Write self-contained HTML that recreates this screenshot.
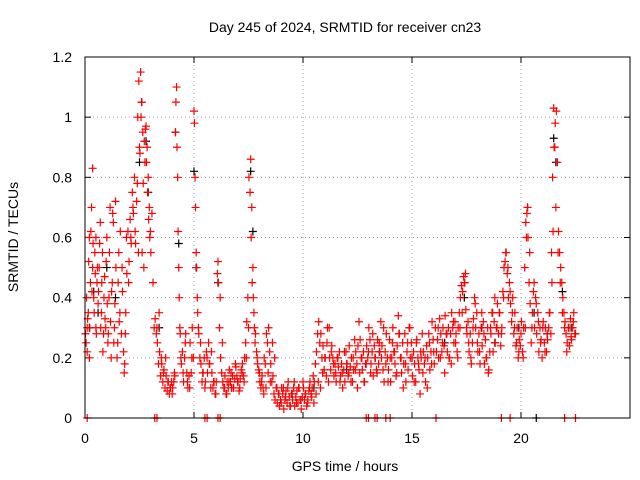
<!DOCTYPE html>
<html><head><meta charset="utf-8"><style>
body{margin:0;background:#fff}
svg{display:block;font-family:"Liberation Sans",sans-serif}
</style></head><body>
<svg id="chart" width="640" height="480" viewBox="0 0 640 480">
<text x="345" y="32" font-size="14" text-anchor="middle">Day 245 of 2024, SRMTID for receiver cn23</text>
<g id="grid"></g>
<g id="axes"></g>
<g id="marks"></g>
<rect x="85" y="57" width="545" height="361" fill="none" stroke="#000"/>
<text x="345" y="471" font-size="14" text-anchor="middle">GPS time / hours</text>
<text x="18" y="237" font-size="14" text-anchor="middle" transform="rotate(-90 18 237)">SRMTID / TECUs</text>
</svg>
<script>
const xTicks=[0,5,10,15,20];
const yTicks=[0,0.2,0.4,0.6,0.8,1,1.2];
const yTickLabels=["0","0.2","0.4","0.6","0.8","1","1.2"];
const redT=[0.05,0.1,0.1,0.15,0.2,0.2,0.25,0.3,0.35,0.35,0.4,0.45,0.5,0.5,0.55,0.6,0.65,0.7,0.75,0.8,0.85,0.9,0.95,1.0,1.05,1.1,1.15,1.2,1.25,1.3,1.35,1.4,1.5,1.55,1.6,1.7,1.8,1.85,1.9,2.0,2.1,2.2,2.3,2.4,2.45,2.5,2.55,2.6,2.65,2.7,2.75,2.8,2.85,2.9,2.95,3.0,3.3,3.4,3.5,3.6,3.7,3.8,3.9,4.0,4.1,4.15,4.2,4.25,4.3,4.35,4.4,4.5,4.6,4.7,4.8,4.9,5.0,5.05,5.1,5.15,5.2,5.3,5.4,5.5,5.6,5.7,5.8,5.9,6.0,6.1,6.2,6.3,6.4,6.5,6.6,6.7,6.8,6.9,7.0,7.1,7.2,7.3,7.4,7.5,7.6,7.65,7.7,7.75,7.8,7.9,8.0,8.1,8.2,8.3,8.4,8.5,8.6,8.7,8.8,8.9,9.0,9.1,9.2,9.3,9.4,9.5,9.6,9.7,9.8,9.9,10.0,10.1,10.2,10.3,10.4,10.5,10.6,10.7,10.8,10.9,11.0,11.1,11.2,11.3,11.4,11.5,11.6,11.7,11.8,11.9,12.0,12.1,12.2,12.3,12.4,12.5,12.6,12.7,12.8,12.9,13.0,13.1,13.2,13.3,13.4,13.5,13.6,13.7,13.8,13.9,14.0,14.1,14.2,14.3,14.4,14.5,14.6,14.7,14.8,14.9,15.0,15.1,15.2,15.3,15.4,15.5,15.6,15.7,15.8,15.9,16.0,16.2,16.3,16.4,16.5,16.6,16.7,16.8,16.9,17.0,17.1,17.2,17.3,17.4,17.45,17.5,17.6,17.7,17.8,17.9,18.0,18.1,18.2,18.3,18.4,18.5,18.6,18.7,18.8,18.9,19.0,19.1,19.2,19.3,19.4,19.5,19.6,19.7,19.8,19.9,20.0,20.1,20.2,20.25,20.3,20.4,20.5,20.6,20.7,20.8,20.9,21.0,21.1,21.2,21.3,21.4,21.45,21.5,21.55,21.6,21.7,21.8,21.9,22.0,22.1,22.2,22.3,22.4,22.5,
0.1,3.2,3.3,5.5,5.6,6.1,6.2,12.9,13.0,13.3,13.4,13.8,14.0,16.1,19.1,19.5,22.0,22.5];
const redV=[0.25,0.3,0.22,0.35,0.6,0.2,0.45,0.7,0.83,0.5,0.4,0.55,0.3,0.6,0.45,0.38,0.5,0.65,0.35,0.55,0.28,0.47,0.3,0.6,0.25,0.4,0.7,0.2,0.45,0.65,0.3,0.72,0.25,0.55,0.35,0.5,0.15,0.28,0.6,0.45,0.6,0.7,0.62,0.78,0.55,0.9,1.15,1.05,0.95,0.5,0.85,0.97,0.9,0.8,0.7,0.62,0.3,0.35,0.2,0.15,0.2,0.12,0.1,0.08,0.15,0.95,1.1,0.8,0.5,0.3,0.2,0.15,0.25,0.12,0.1,0.2,1.02,0.8,0.55,0.4,0.3,0.25,0.15,0.1,0.2,0.18,0.22,0.12,0.08,0.52,0.4,0.25,0.1,0.08,0.12,0.15,0.1,0.18,0.12,0.1,0.15,0.12,0.2,0.3,0.86,0.7,0.5,0.35,0.25,0.2,0.15,0.12,0.08,0.1,0.15,0.12,0.25,0.2,0.1,0.08,0.05,0.1,0.07,0.1,0.04,0.08,0.12,0.05,0.1,0.06,0.12,0.08,0.05,0.1,0.07,0.05,0.08,0.12,0.1,0.15,0.2,0.25,0.3,0.22,0.18,0.15,0.2,0.12,0.15,0.22,0.18,0.15,0.12,0.2,0.16,0.1,0.15,0.2,0.12,0.18,0.22,0.15,0.28,0.2,0.15,0.25,0.2,0.3,0.18,0.12,0.2,0.25,0.22,0.15,0.28,0.2,0.1,0.18,0.25,0.3,0.2,0.12,0.25,0.18,0.22,0.15,0.2,0.1,0.25,0.18,0.22,0.3,0.2,0.25,0.15,0.28,0.2,0.18,0.32,0.25,0.2,0.3,0.35,0.45,0.48,0.3,0.25,0.2,0.3,0.38,0.25,0.22,0.35,0.28,0.2,0.15,0.3,0.35,0.4,0.3,0.35,0.28,0.4,0.55,0.5,0.42,0.35,0.3,0.25,0.22,0.28,0.2,0.3,0.6,0.7,0.55,0.3,0.45,0.38,0.32,0.25,0.3,0.22,0.28,0.35,0.55,0.8,1.03,0.9,0.7,0.55,0.45,0.35,0.3,0.22,0.3,0.27,0.32,0.28,
0,0,0,0,0,0,0,0,0,0,0,0,0,0,0,0,0,0];
// additional samples: 20 per hour, hour h at offsets below
const sampleOffsets=[0.02,0.07,0.12,0.17,0.22,0.27,0.32,0.37,0.42,0.47,0.52,0.57,0.62,0.67,0.72,0.77,0.82,0.87,0.92,0.97];
const hourlyV=[
[0.28,0.4,0.33,0.52,0.3,0.62,0.42,0.58,0.35,0.48,0.28,0.5,0.42,0.58,0.3,0.45,0.22,0.4,0.33,0.52],
[0.38,0.28,0.55,0.32,0.42,0.68,0.25,0.38,0.5,0.2,0.45,0.32,0.62,0.28,0.42,0.22,0.18,0.35,0.48,0.62],
[0.52,0.66,0.58,0.75,0.68,0.8,0.58,0.72,1.0,1.12,0.88,1.0,0.55,0.78,0.92,0.96,0.85,0.75,0.66,0.6],
[0.55,0.68,0.45,0.3,0.33,0.28,0.25,0.18,0.22,0.14,0.18,0.12,0.16,0.1,0.14,0.09,0.12,0.08,0.1,0.12],
[0.1,0.12,0.14,1.05,0.9,0.62,0.4,0.28,0.18,0.22,0.12,0.2,0.28,0.15,0.1,0.14,0.25,0.15,0.3,0.2],
[0.98,0.7,0.5,0.35,0.28,0.2,0.18,0.12,0.15,0.2,0.12,0.22,0.15,0.25,0.18,0.1,0.15,0.1,0.12,0.08],
[0.12,0.48,0.45,0.3,0.2,0.15,0.12,0.1,0.14,0.08,0.12,0.1,0.16,0.12,0.1,0.14,0.1,0.13,0.17,0.14],
[0.12,0.09,0.13,0.16,0.18,0.14,0.2,0.25,0.32,0.4,0.8,0.75,0.6,0.45,0.4,0.3,0.28,0.22,0.18,0.16],
[0.12,0.1,0.14,0.1,0.2,0.18,0.28,0.25,0.3,0.22,0.18,0.12,0.14,0.08,0.06,0.1,0.05,0.08,0.04,0.06],
[0.1,0.08,0.03,0.06,0.09,0.05,0.12,0.07,0.04,0.08,0.06,0.1,0.04,0.07,0.09,0.05,0.1,0.06,0.03,0.07],
[0.1,0.06,0.08,0.04,0.06,0.09,0.12,0.08,0.1,0.14,0.12,0.18,0.22,0.28,0.32,0.25,0.28,0.2,0.24,0.16],
[0.2,0.14,0.3,0.12,0.2,0.16,0.24,0.2,0.14,0.18,0.12,0.2,0.17,0.22,0.14,0.18,0.1,0.16,0.12,0.22],
[0.18,0.14,0.24,0.17,0.2,0.12,0.16,0.26,0.22,0.18,0.24,0.32,0.26,0.2,0.16,0.22,0.12,0.18,0.24,0.2],
[0.3,0.26,0.18,0.22,0.14,0.24,0.2,0.16,0.26,0.18,0.22,0.32,0.24,0.16,0.12,0.22,0.28,0.2,0.16,0.26],
[0.12,0.2,0.3,0.22,0.18,0.14,0.24,0.34,0.28,0.2,0.15,0.25,0.18,0.28,0.12,0.22,0.16,0.3,0.2,0.25],
[0.14,0.22,0.18,0.12,0.26,0.2,0.16,0.08,0.2,0.28,0.22,0.18,0.12,0.24,0.2,0.28,0.16,0.22,0.32,0.26],
[0.18,0.3,0.22,0.26,0.2,0.33,0.28,0.22,0.3,0.24,0.34,0.28,0.22,0.3,0.2,0.28,0.35,0.3,0.25,0.32],
[0.28,0.22,0.3,0.35,0.4,0.44,0.42,0.47,0.45,0.36,0.28,0.32,0.22,0.28,0.18,0.25,0.33,0.4,0.3,0.35],
[0.22,0.28,0.18,0.3,0.24,0.32,0.18,0.26,0.2,0.3,0.16,0.22,0.28,0.35,0.22,0.32,0.25,0.3,0.38,0.28],
[0.35,0.24,0.3,0.42,0.5,0.52,0.55,0.48,0.4,0.45,0.38,0.32,0.4,0.28,0.35,0.24,0.3,0.2,0.26,0.24],
[0.32,0.22,0.3,0.5,0.65,0.68,0.6,0.45,0.38,0.25,0.35,0.42,0.3,0.4,0.28,0.35,0.22,0.3,0.26,0.2],
[0.32,0.25,0.3,0.22,0.26,0.3,0.35,0.28,0.45,0.62,0.9,0.98,1.02,0.85,0.62,0.55,0.5,0.45,0.4,0.35],
[0.32,0.28,0.25,0.3,0.24,0.33,0.26,0.3,0.35,0.28]
];
const blackT=[0.2,0.4,0.6,1.0,1.4,2.5,2.6,2.8,2.9,3.4,4.15,4.3,5.0,5.1,6.1,7.6,7.7,9.5,10.5,12.0,13.5,15.0,16.5,17.4,18.2,18.8,19.9,20.3,20.6,20.7,21.2,21.5,21.6,21.9,22.3];
const blackV=[0.3,0.42,0.35,0.5,0.4,0.85,1.05,0.92,0.75,0.3,0.95,0.58,0.82,0.5,0.45,0.82,0.62,0.08,0.1,0.16,0.22,0.2,0.25,0.4,0.3,0.25,0.3,0.7,0.35,0,0.28,0.93,0.85,0.42,0.3];
const X=t=>85+t*(545/25);
const Y=v=>418-v*(361/1.2);
const NS="http://www.w3.org/2000/svg";
const grid=document.getElementById('grid'),axes=document.getElementById('axes'),marks=document.getElementById('marks');
function mk(tag,attrs,parent){const e=document.createElementNS(NS,tag);for(const k in attrs)e.setAttribute(k,attrs[k]);parent.appendChild(e);return e;}
xTicks.forEach(t=>{
 const g=mk('line',{x1:X(t),x2:X(t),y1:57,y2:418,stroke:'#a0a0a0','stroke-dasharray':'1,3'},grid);
 
 
 mk('line',{x1:X(t),x2:X(t),y1:418,y2:412,stroke:'#000'},axes);
 mk('line',{x1:X(t),x2:X(t),y1:57,y2:63,stroke:'#000'},axes);
 const l=mk('text',{x:X(t),y:443,'font-size':14,'text-anchor':'middle'},axes);
 l.textContent=t;
 
 
});
yTicks.forEach((v,i)=>{
 const g=mk('line',{x1:85,x2:630,y1:Y(v),y2:Y(v),stroke:'#a0a0a0','stroke-dasharray':'1,3'},grid);
 
 
 mk('line',{x1:85,x2:91,y1:Y(v),y2:Y(v),stroke:'#000'},axes);
 mk('line',{x1:624,x2:630,y1:Y(v),y2:Y(v),stroke:'#000'},axes);
 const l=mk('text',{x:72,y:Y(v)+5,'font-size':14,'text-anchor':'end'},axes);
 l.textContent=yTickLabels[i];
 
 
});
function plus(t,v,color){
 const x=X(t),y=Y(v);
 const p=mk('path',{d:`M${x-4} ${y}H${x+4}M${x} ${y-4}V${y+4}`,stroke:color,'stroke-width':1.2,fill:'none'},marks);
 
 
}
blackT.forEach((t,i)=>plus(t,blackV[i],'#000'));
redT.forEach((t,i)=>plus(t,redV[i],'#ff0000'));
hourlyV.forEach((vals,h)=>vals.forEach((v,i)=>plus(h+sampleOffsets[i],v,'#ff0000')));
</script>
</body></html>
